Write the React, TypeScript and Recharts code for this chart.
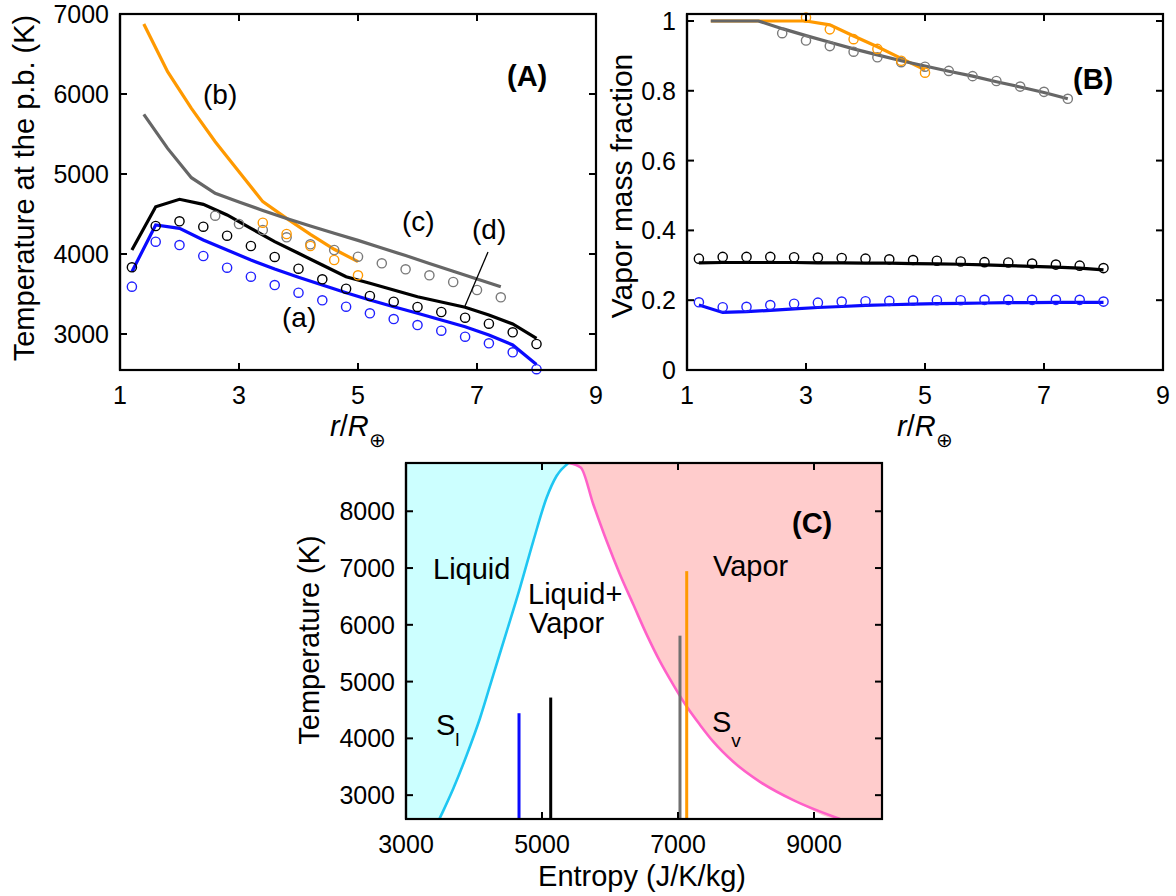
import React from "react";
import { Area, ComposedChart, Line, Scatter, XAxis, YAxis } from "recharts";

const FONT = '"Liberation Sans", Arial, Helvetica, sans-serif';

// sample radii (r / R_earth)
const R_ALL = [1.2, 1.6, 2.0, 2.4, 2.8, 3.2, 3.6, 4.0, 4.4, 4.8, 5.2, 5.6, 6.0, 6.4, 6.8, 7.2, 7.6, 8.0];
const R_GRAY_LINE = [1.4, 1.8, 2.2, 2.6, 3.0, 3.4, 3.8, 4.2, 4.6, 5.0, 5.4, 5.8, 6.2, 6.6, 7.0, 7.4];
const R_ORANGE_LINE = [1.4, 1.8, 2.2, 2.6, 3.0, 3.4, 3.8, 4.2, 4.6, 5.0];
const R_GRAY_PTS = [2.6, 3.0, 3.4, 3.8, 4.2, 4.6, 5.0, 5.4, 5.8, 6.2, 6.6, 7.0, 7.4];
const R_ORANGE_PTS_A = [3.4, 3.8, 4.2, 4.6, 5.0];
const R_ORANGE_PTS_B = [3.0, 3.4, 3.8, 4.2, 4.6, 5.0];

// (A) temperature at the p.b. (K)
const blueLineA = [3779, 4363, 4321, 4175, 4050, 3925, 3813, 3709, 3613, 3516, 3425, 3341, 3259, 3175, 3091, 2988, 2863, 2620];
const blueDotsA = [3592, 4154, 4112, 3975, 3829, 3716, 3612, 3516, 3421, 3341, 3259, 3187, 3112, 3041, 2966, 2884, 2771, 2560];
const blackLineA = [4050, 4591, 4684, 4621, 4488, 4321, 4154, 4009, 3863, 3716, 3634, 3550, 3466, 3400, 3334, 3238, 3125, 2946];
const blackDotsA = [3834, 4350, 4409, 4341, 4229, 4100, 3963, 3816, 3684, 3566, 3475, 3404, 3338, 3275, 3204, 3129, 3021, 2875];
const grayLineA = [5746, 5320, 4954, 4759, 4650, 4545, 4445, 4350, 4260, 4170, 4075, 3980, 3880, 3785, 3688, 3591];
const grayDotsA = [4479, 4375, 4300, 4209, 4121, 4050, 3966, 3884, 3809, 3734, 3650, 3550, 3459];
const orangeLineA = [6875, 6279, 5821, 5404, 5029, 4654, 4446, 4246, 4059, 3904];
const orangeDotsA = [4391, 4250, 4100, 3925, 3734];

// (B) vapor mass fraction
const blueLineB = [0.186, 0.165, 0.167, 0.171, 0.175, 0.179, 0.182, 0.185, 0.187, 0.189, 0.19, 0.191, 0.192, 0.193, 0.193, 0.194, 0.194, 0.194];
const blueDotsB = [0.194, 0.18, 0.181, 0.186, 0.19, 0.193, 0.196, 0.197, 0.198, 0.199, 0.2, 0.2, 0.201, 0.201, 0.201, 0.201, 0.201, 0.196];
const blackLineB = [0.307, 0.308, 0.308, 0.308, 0.308, 0.307, 0.307, 0.306, 0.306, 0.305, 0.304, 0.303, 0.301, 0.299, 0.297, 0.295, 0.292, 0.287];
const blackDotsB = [0.319, 0.324, 0.324, 0.324, 0.323, 0.322, 0.321, 0.319, 0.317, 0.315, 0.313, 0.311, 0.309, 0.308, 0.305, 0.302, 0.299, 0.292];
const grayLineB = [1.0, 1.0, 1.0, 0.978, 0.958, 0.939, 0.92, 0.903, 0.886, 0.871, 0.856, 0.842, 0.826, 0.811, 0.795, 0.777];
const grayDotsB = [0.965, 0.944, 0.928, 0.912, 0.896, 0.882, 0.869, 0.857, 0.842, 0.828, 0.812, 0.797, 0.777];
const orangeLineB = [1.0, 1.0, 1.0, 1.0, 1.0, 0.989, 0.957, 0.926, 0.893, 0.86];
const orangeDotsB = [1.01, 0.976, 0.948, 0.92, 0.886, 0.852];

// (C) phase diagram, entropy (J/K/kg) vs temperature (K)
const liquidS = [3490, 3696, 3893, 4088, 4284, 4481, 4676, 4872, 5069, 5216, 5390];
const liquidT = [2580, 3118, 3707, 4355, 5120, 5885, 6652, 7475, 8242, 8625, 8850];
const vaporS = [5390, 5569, 5754, 5951, 6147, 6343, 6540, 6735, 6931, 7128, 7324, 7519, 7813, 8206, 8696, 9382];
const vaporT = [8850, 8772, 8124, 7475, 6887, 6357, 5827, 5355, 4943, 4560, 4237, 3942, 3588, 3235, 2912, 2580];
const caseS = [4662, 5128, 7029, 7128];
const caseTmax = [4443, 4719, 5809, 6945];

// axis ranges and ticks
const R_DOMAIN = [1, 9];
const R_TICKS = [1, 3, 5, 7, 9];
const TA_DOMAIN = [2550, 7000];
const TA_TICKS = [3000, 4000, 5000, 6000, 7000];
const FRAC_DOMAIN = [0, 1.02];
const FRAC_TICKS = [0, 0.2, 0.4, 0.6, 0.8, 1];
const S_DOMAIN = [3000, 10000];
const S_TICKS = [3000, 5000, 7000, 9000];
const TC_DOMAIN = [2580, 8850];
const TC_TICKS = [3000, 4000, 5000, 6000, 7000, 8000];

const BLUE = "#0a0aff";
const BLUE_DOT = "#2020ff";
const ORANGE = "#ff9900";
const GRAY = "#666666";
const GRAY_DOT = "#7a7a7a";
const CYAN = "#1ec6f2";
const PINK = "#ff60c8";
const CASE_COLORS = [BLUE, "#000000", "#707070", ORANGE];

// plot boxes on the page (layout only)
const BOX_A = { x: 120, y: 14, w: 476, h: 356 };
const BOX_B = { x: 687, y: 14, w: 476, h: 356 };
const BOX_C = { x: 406, y: 463, w: 476, h: 356 };

const pairs = (xs: number[], ys: number[]) => xs.map((x, i) => ({ x, y: ys[i] }));

const plain = (v: number) => String(v);
const frac = (v: number) => (v === 0 || v === 1 ? String(v) : v.toFixed(1));
const AXIS = { stroke: "#000", strokeWidth: 2.2 };

const xLabel = (fmt: (v: number) => string) => (p: any) => (
  <text x={p.x} y={p.y + 32} textAnchor="middle" fontFamily={FONT} fontSize={25} fill="#000">{fmt(p.payload.value)}</text>
);
const yLabel = (fmt: (v: number) => string) => (p: any) => (
  <text x={p.x - 9} y={p.y + 9} textAnchor="end" fontFamily={FONT} fontSize={25} fill="#000">{fmt(p.payload.value)}</text>
);

const ring = (color: string) => (p: any) =>
  <circle cx={p.cx} cy={p.cy} r={4.6} fill="none" stroke={color} strokeWidth={1.4} />;

function PanelA() {
  return (
    <ComposedChart width={620} height={440} margin={{ top: 14, right: 24, bottom: 0, left: 0 }}>
      <Line data={pairs(R_ORANGE_LINE, orangeLineA)} dataKey="y" stroke={ORANGE} strokeWidth={3.2} dot={false} isAnimationActive={false} />
      <Line data={pairs(R_GRAY_LINE, grayLineA)} dataKey="y" stroke={GRAY} strokeWidth={3.2} dot={false} isAnimationActive={false} />
      <Line data={pairs(R_ALL, blackLineA)} dataKey="y" stroke="#000" strokeWidth={3.2} dot={false} isAnimationActive={false} />
      <Line data={pairs(R_ALL, blueLineA)} dataKey="y" stroke={BLUE} strokeWidth={3.2} dot={false} isAnimationActive={false} />
      <Scatter data={pairs(R_GRAY_PTS, grayDotsA)} shape={ring(GRAY_DOT)} isAnimationActive={false} />
      <Scatter data={pairs(R_ORANGE_PTS_A, orangeDotsA)} shape={ring(ORANGE)} isAnimationActive={false} />
      <Scatter data={pairs(R_ALL, blackDotsA)} shape={ring("#000")} isAnimationActive={false} />
      <Scatter data={pairs(R_ALL, blueDotsA)} shape={ring(BLUE_DOT)} isAnimationActive={false} />
      <XAxis dataKey="x" type="number" domain={R_DOMAIN} ticks={R_TICKS} interval={0} height={70}
        tickSize={0} tickLine={false} axisLine={AXIS} tick={xLabel(plain)} />
      <YAxis dataKey="y" type="number" domain={TA_DOMAIN} ticks={TA_TICKS} interval={0} width={120}
        tickSize={0} tickLine={false} axisLine={AXIS} tick={yLabel(plain)} />
    </ComposedChart>
  );
}

function PanelB() {
  return (
    <ComposedChart width={576} height={440} margin={{ top: 14, right: 13, bottom: 0, left: 0 }}>
      <Line data={pairs(R_ORANGE_LINE, orangeLineB)} dataKey="y" stroke={ORANGE} strokeWidth={3.2} dot={false} isAnimationActive={false} />
      <Line data={pairs(R_GRAY_LINE, grayLineB)} dataKey="y" stroke={GRAY} strokeWidth={3.2} dot={false} isAnimationActive={false} />
      <Line data={pairs(R_ALL, blackLineB)} dataKey="y" stroke="#000" strokeWidth={3.2} dot={false} isAnimationActive={false} />
      <Line data={pairs(R_ALL, blueLineB)} dataKey="y" stroke={BLUE} strokeWidth={3.2} dot={false} isAnimationActive={false} />
      <Scatter data={pairs(R_GRAY_PTS, grayDotsB)} shape={ring(GRAY_DOT)} isAnimationActive={false} />
      <Scatter data={pairs(R_ORANGE_PTS_B, orangeDotsB)} shape={ring(ORANGE)} isAnimationActive={false} />
      <Scatter data={pairs(R_ALL, blackDotsB)} shape={ring("#000")} isAnimationActive={false} />
      <Scatter data={pairs(R_ALL, blueDotsB)} shape={ring(BLUE_DOT)} isAnimationActive={false} />
      <XAxis dataKey="x" type="number" domain={R_DOMAIN} ticks={R_TICKS} interval={0} height={70}
        tickSize={0} tickLine={false} axisLine={AXIS} tick={xLabel(plain)} />
      <YAxis dataKey="y" type="number" domain={FRAC_DOMAIN} ticks={FRAC_TICKS} interval={0} width={87}
        tickSize={0} tickLine={false} axisLine={AXIS} tick={yLabel(frac)} />
    </ComposedChart>
  );
}

function PanelC() {
  const liquidFill = [{ x: S_DOMAIN[0], y: TC_DOMAIN[0] }, ...pairs(liquidS, liquidT)];
  const vaporFill = [...pairs(vaporS, vaporT), { x: S_DOMAIN[1], y: TC_DOMAIN[0] }];
  return (
    <ComposedChart width={620} height={456} margin={{ top: 23, right: 28, bottom: 0, left: 0 }}>
      <Area data={liquidFill} dataKey="y" type="monotone" baseValue={TC_DOMAIN[1]} stroke="none" fill="#ccffff" fillOpacity={1} isAnimationActive={false} />
      <Area data={vaporFill} dataKey="y" type="monotone" baseValue={TC_DOMAIN[1]} stroke="none" fill="#ffcccc" fillOpacity={1} isAnimationActive={false} />
      <Line data={pairs(liquidS, liquidT)} dataKey="y" type="monotone" stroke={CYAN} strokeWidth={2.6} dot={false} isAnimationActive={false} />
      <Line data={pairs(vaporS, vaporT)} dataKey="y" type="monotone" stroke={PINK} strokeWidth={2.6} dot={false} isAnimationActive={false} />
      {caseS.map((s, i) => (
        <Line key={i} data={[{ x: s, y: TC_DOMAIN[0] }, { x: s, y: caseTmax[i] }]} dataKey="y" stroke={CASE_COLORS[i]}
          strokeWidth={3} dot={false} isAnimationActive={false} />
      ))}
      <XAxis dataKey="x" type="number" domain={S_DOMAIN} ticks={S_TICKS} interval={0} allowDataOverflow height={77}
        tickSize={0} tickLine={false} axisLine={AXIS} tick={xLabel(plain)} />
      <YAxis dataKey="y" type="number" domain={TC_DOMAIN} ticks={TC_TICKS} interval={0} allowDataOverflow width={116}
        tickSize={0} tickLine={false} axisLine={AXIS} tick={yLabel(plain)} />
    </ComposedChart>
  );
}

// closed box with inward ticks on all four sides
function Frame({ box, xd, xt, yd, yt }: { box: typeof BOX_A; xd: number[]; xt: number[]; yd: number[]; yt: number[] }) {
  const px = (v: number) => box.x + ((v - xd[0]) / (xd[1] - xd[0])) * box.w;
  const py = (v: number) => box.y + box.h - ((v - yd[0]) / (yd[1] - yd[0])) * box.h;
  const L = 7;
  return (
    <g stroke="#000" strokeWidth={2}>
      <rect x={box.x} y={box.y} width={box.w} height={box.h} fill="none" strokeWidth={2.2} />
      {xt.map((v) => (
        <g key={"x" + v}>
          <line x1={px(v)} y1={box.y + box.h} x2={px(v)} y2={box.y + box.h - L} />
          <line x1={px(v)} y1={box.y} x2={px(v)} y2={box.y + L} />
        </g>
      ))}
      {yt.map((v) => (
        <g key={"y" + v}>
          <line x1={box.x} y1={py(v)} x2={box.x + L} y2={py(v)} />
          <line x1={box.x + box.w} y1={py(v)} x2={box.x + box.w - L} y2={py(v)} />
        </g>
      ))}
    </g>
  );
}

function Overlay() {
  const t = { fontFamily: FONT, fill: "#000" } as const;
  return (
    <svg width={1176} height={896} style={{ position: "absolute", left: 0, top: 0, pointerEvents: "none" }}>
      <Frame box={BOX_A} xd={R_DOMAIN} xt={R_TICKS} yd={TA_DOMAIN} yt={TA_TICKS} />
      <Frame box={BOX_B} xd={R_DOMAIN} xt={R_TICKS} yd={FRAC_DOMAIN} yt={FRAC_TICKS} />
      <Frame box={BOX_C} xd={S_DOMAIN} xt={S_TICKS} yd={TC_DOMAIN} yt={TC_TICKS} />

      {/* axis titles */}
      <text {...t} fontSize={29} textAnchor="middle" transform="translate(34,188) rotate(-90)">Temperature at the p.b. (K)</text>
      <text {...t} fontSize={30} textAnchor="middle" transform="translate(632,186) rotate(-90)">Vapor mass fraction</text>
      <text {...t} fontSize={29} textAnchor="middle" transform="translate(319,640) rotate(-90)">Temperature (K)</text>
      <text {...t} fontSize={29} x={330} y={436}>
        <tspan fontStyle="italic">r</tspan>/<tspan fontStyle="italic">R</tspan>
        <tspan fontSize={20} dy={11}>⊕</tspan>
      </text>
      <text {...t} fontSize={29} x={897} y={436}>
        <tspan fontStyle="italic">r</tspan>/<tspan fontStyle="italic">R</tspan>
        <tspan fontSize={20} dy={11}>⊕</tspan>
      </text>
      <text {...t} fontSize={29} textAnchor="middle" x={642} y={886}>Entropy (J/K/kg)</text>

      {/* panel labels */}
      <text {...t} fontSize={29} fontWeight="bold" x={507} y={86}>(A)</text>
      <text {...t} fontSize={29} fontWeight="bold" x={1073} y={89}>(B)</text>
      <text {...t} fontSize={29} fontWeight="bold" x={792} y={533}>(C)</text>

      {/* case labels in (A) */}
      <text {...t} fontSize={28} x={203} y={104}>(b)</text>
      <text {...t} fontSize={28} x={402} y={231}>(c)</text>
      <text {...t} fontSize={28} x={472} y={239}>(d)</text>
      <text {...t} fontSize={28} x={282} y={327}>(a)</text>
      <line x1={488} y1={252} x2={465} y2={306} stroke="#000" strokeWidth={1.3} />

      {/* phase labels in (C) */}
      <text {...t} fontSize={29} x={433} y={579}>Liquid</text>
      <text {...t} fontSize={29} x={528} y={604}>Liquid+</text>
      <text {...t} fontSize={29} x={529} y={633}>Vapor</text>
      <text {...t} fontSize={29} x={713} y={576}>Vapor</text>
      <text {...t} fontSize={29} x={436} y={735}>S<tspan fontSize={19} dy={11}>l</tspan></text>
      <text {...t} fontSize={29} x={712} y={732}>S<tspan fontSize={19} dy={15}>v</tspan></text>
    </svg>
  );
}

export default function App() {
  return (
    <div style={{ position: "absolute", left: 0, top: 0, width: 1176, height: 896, background: "#fff", fontFamily: FONT }}>
      <div style={{ position: "absolute", left: 0, top: 0 }}><PanelA /></div>
      <div style={{ position: "absolute", left: 600, top: 0 }}><PanelB /></div>
      <div style={{ position: "absolute", left: 290, top: 440 }}><PanelC /></div>
      <Overlay />
    </div>
  );
}
